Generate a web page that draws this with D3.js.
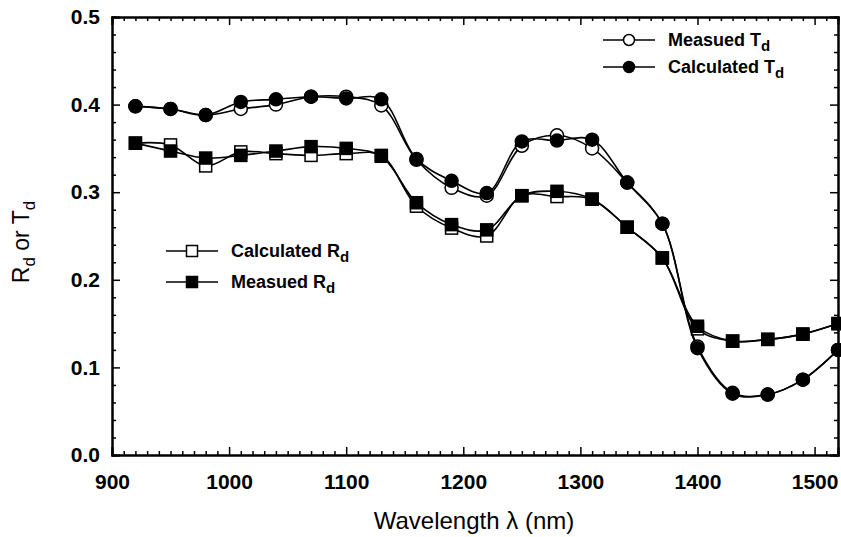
<!DOCTYPE html>
<html>
<head>
<meta charset="utf-8">
<script src="https://cdn.jsdelivr.net/npm/d3@7"></script>
<style>
  html, body { margin: 0; padding: 0; background: #fff; }
  svg { display: block; font-family: "Liberation Sans", Arial, sans-serif; }
</style>
</head>
<body>
<svg id="chart" width="841" height="537"></svg>
<script>
// ---- data ----
const wavelengths = [920, 950, 980, 1010, 1040, 1070, 1100, 1130, 1160, 1190, 1220, 1250, 1280, 1310, 1340, 1370, 1400, 1430, 1460, 1490, 1520];
const measuredTd   = [0.398, 0.395, 0.388, 0.395, 0.400, 0.409, 0.409, 0.399, 0.337, 0.305, 0.296, 0.353, 0.365, 0.350, 0.311, 0.264, 0.124, 0.071, 0.069, 0.086, 0.120];
const calculatedTd = [0.398, 0.395, 0.388, 0.403, 0.406, 0.409, 0.407, 0.406, 0.338, 0.313, 0.299, 0.358, 0.359, 0.360, 0.311, 0.264, 0.122, 0.070, 0.069, 0.086, 0.120];
const calculatedRd = [0.356, 0.354, 0.330, 0.346, 0.344, 0.342, 0.344, 0.342, 0.284, 0.259, 0.250, 0.296, 0.295, 0.292, 0.260, 0.225, 0.144, 0.130, 0.132, 0.138, 0.150];
const measuredRd   = [0.356, 0.347, 0.339, 0.342, 0.347, 0.352, 0.350, 0.341, 0.288, 0.263, 0.257, 0.296, 0.301, 0.292, 0.260, 0.225, 0.147, 0.130, 0.132, 0.138, 0.150];
const xTickValues = [900, 1000, 1100, 1200, 1300, 1400, 1500];
const yTickValues = [0.0, 0.1, 0.2, 0.3, 0.4, 0.5];

const svg = d3.select("#chart");
const L = 112, R = 838, T = 17, B = 455;
const x = d3.scaleLinear().domain([900, 1520]).range([L, R]);
const y = d3.scaleLinear().domain([0, 0.5]).range([B, T]);

const minorX = d3.range(900, 1521, 10).filter(v => v % 100 !== 0);
const minorY = d3.range(0, 0.501, 0.02).filter(v => Math.abs(v * 10 - Math.round(v * 10)) > 1e-6);

// bottom axis
const gB = svg.append("g").attr("transform", `translate(0,${B})`);
gB.call(d3.axisBottom(x).tickValues(xTickValues).tickSize(-8).tickPadding(19).tickFormat(d3.format("d")));
gB.append("g").call(d3.axisBottom(x).tickValues(minorX).tickSize(-4).tickFormat(""));
// top axis
const gT = svg.append("g").attr("transform", `translate(0,${T})`);
gT.call(d3.axisTop(x).tickValues(xTickValues).tickSize(-8).tickFormat(""));
gT.append("g").call(d3.axisTop(x).tickValues(minorX).tickSize(-4).tickFormat(""));
// left axis
const gL = svg.append("g").attr("transform", `translate(${L},0)`);
gL.call(d3.axisLeft(y).tickValues(yTickValues).tickSize(-8).tickPadding(12).tickFormat(d3.format(".1f")));
gL.append("g").call(d3.axisLeft(y).tickValues(minorY).tickSize(-4).tickFormat(""));
// right axis
const gR = svg.append("g").attr("transform", `translate(${R},0)`);
gR.call(d3.axisRight(y).tickValues(yTickValues).tickSize(-8).tickFormat(""));
gR.append("g").call(d3.axisRight(y).tickValues(minorY).tickSize(-4).tickFormat(""));

svg.selectAll(".domain").attr("stroke", "#000").attr("stroke-width", 2);
svg.selectAll(".tick line").attr("stroke", "#000").attr("stroke-width", 1.5);
svg.selectAll(".tick text").attr("fill", "#000").style("font-size", "21px").style("font-weight", "bold")
   .style("font-family", "'Liberation Sans', Arial, sans-serif");

// series
const line = d3.line().curve(d3.curveCatmullRom.alpha(0.5)).x(d => x(d[0])).y(d => y(d[1]));
const series = [
  { vals: measuredTd, shape: "circle", fill: "#fff" },
  { vals: calculatedRd, shape: "square", fill: "#fff" },
  { vals: calculatedTd, shape: "circle", fill: "#000" },
  { vals: measuredRd, shape: "square", fill: "#000" }
];

function drawMarker(g, shape, fill, cx, cy, sz) {
  if (shape === "circle") {
    g.append("circle").attr("cx", cx).attr("cy", cy).attr("r", sz / 2)
      .attr("fill", fill).attr("stroke", "#000").attr("stroke-width", 1.5);
  } else {
    g.append("rect").attr("x", cx - sz / 2).attr("y", cy - sz / 2).attr("width", sz).attr("height", sz)
      .attr("fill", fill).attr("stroke", "#000").attr("stroke-width", 1.5);
  }
}

series.forEach(s => {
  const pts = wavelengths.map((w, i) => [w, s.vals[i]]);
  const g = svg.append("g");
  g.append("path").attr("d", line(pts)).attr("fill", "none").attr("stroke", "#000").attr("stroke-width", 1.6);
  pts.forEach(p => drawMarker(g, s.shape, s.fill, x(p[0]), y(p[1]), s.shape === "circle" ? 13 : 12));
});

// legends
function legendRow(xl, yl, shape, fill, main, sub) {
  const g = svg.append("g");
  g.append("line").attr("x1", xl).attr("x2", xl + 52).attr("y1", yl).attr("y2", yl).attr("stroke", "#000").attr("stroke-width", 1.5);
  drawMarker(g, shape, fill, xl + 26, yl, 11);
  const t = g.append("text").attr("x", xl + 65).attr("y", yl + 6)
    .style("font-size", "18px").style("font-weight", "bold");
  t.append("tspan").text(main);
  t.append("tspan").attr("dy", 5).style("font-size", "15px").text(sub);
}
legendRow(603, 40, "circle", "#fff", "Measued T", "d");
legendRow(603, 67, "circle", "#000", "Calculated T", "d");
legendRow(166, 251, "square", "#fff", "Calculated R", "d");
legendRow(166, 282, "square", "#000", "Measued R", "d");

// axis titles
svg.append("text").attr("x", 474).attr("y", 529).attr("text-anchor", "middle")
  .style("font-size", "24px").text("Wavelength λ (nm)");
const yt = svg.append("text").attr("transform", "translate(29,242) rotate(-90)").attr("text-anchor", "middle")
  .style("font-size", "23px");
yt.append("tspan").text("R");
yt.append("tspan").attr("dy", 6).style("font-size", "17px").text("d");
yt.append("tspan").attr("dy", -6).text(" or T");
yt.append("tspan").attr("dy", 6).style("font-size", "17px").text("d");
</script>
</body>
</html>
